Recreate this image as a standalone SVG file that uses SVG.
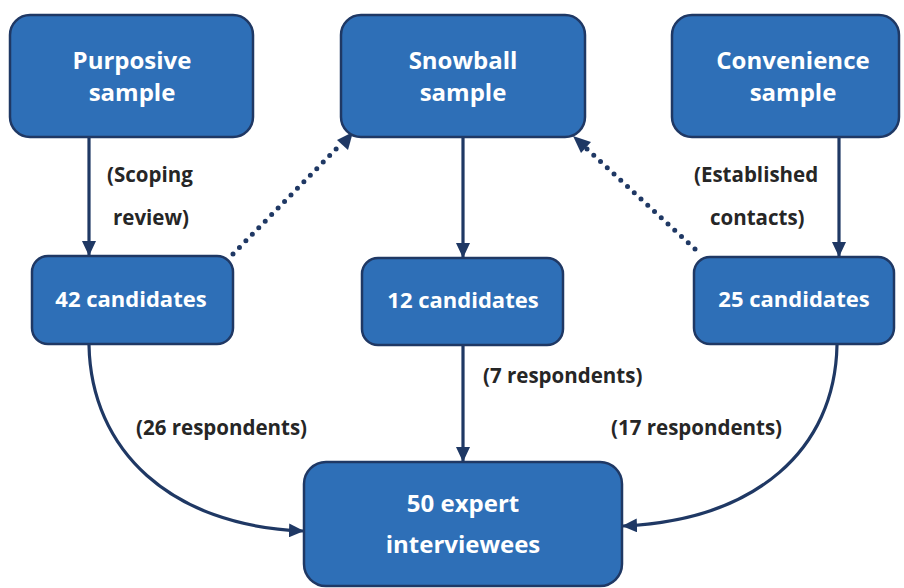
<svg xmlns="http://www.w3.org/2000/svg" width="904" height="588" viewBox="0 0 904 588">
<style>
.box{fill:#2E6FB7;stroke:#1F3864;stroke-width:2.5}
.bt{font-family:"Open Sans","Liberation Sans",sans-serif;font-weight:700;fill:#FFFFFF;text-anchor:middle}
.big{font-size:24px}
.lbl{font-family:"Open Sans","Liberation Sans",sans-serif;font-weight:700;font-size:20.5px;fill:#262626}
.con{fill:none;stroke:#1F3864;stroke-width:3.2}
.dot{fill:none;stroke:#1F3864;stroke-width:5;stroke-linecap:round;stroke-dasharray:0 9.2}
</style>
<defs>
<marker id="ah" markerUnits="userSpaceOnUse" markerWidth="16" markerHeight="14" refX="14" refY="7" orient="auto">
<path d="M0,0 L15,7 L0,14 Z" fill="#1F3864"/>
</marker>
</defs>
<rect width="904" height="588" fill="#FFFFFF"/>
<g id="connectors">
<line class="con" x1="89" y1="137" x2="89" y2="255" marker-end="url(#ah)"/>
<line class="con" x1="463" y1="137" x2="463" y2="257" marker-end="url(#ah)"/>
<line class="con" x1="839" y1="137" x2="839" y2="256" marker-end="url(#ah)"/>
<line class="con" x1="463" y1="345" x2="463" y2="461" marker-end="url(#ah)"/>
<path class="con" d="M89,345 C91,450 170,526 303,531" marker-end="url(#ah)"/>
<path class="con" d="M837,345 C835,450 756,520 623,526" marker-end="url(#ah)"/>
<path class="dot" d="M233,254 L340,145"/>
<path d="M353,132 L348,150 L337,140 Z" fill="#1F3864"/>
<path class="dot" d="M695,249 L586,148"/>
<path d="M573,136 L591,142 L581,153 Z" fill="#1F3864"/>
</g>
<g id="purposive">
<rect class="box" x="10" y="15" width="243" height="122" rx="20"/>
<text class="bt big" x="132" y="69">Purposive</text>
<text class="bt big" x="132" y="101">sample</text>
</g>
<g id="snowball">
<rect class="box" x="341" y="15" width="244" height="122" rx="20"/>
<text class="bt big" x="463" y="69">Snowball</text>
<text class="bt big" x="463" y="101">sample</text>
</g>
<g id="convenience">
<rect class="box" x="672" y="15" width="227" height="122" rx="20"/>
<text class="bt big" x="793" y="69">Convenience</text>
<text class="bt big" x="793" y="101">sample</text>
</g>
<g id="c42">
<rect class="box" x="32" y="256" width="201" height="88" rx="16"/>
<text class="bt" x="131" y="307" font-size="22">42 candidates</text>
</g>
<g id="c12">
<rect class="box" x="362" y="258" width="201" height="87" rx="16"/>
<text class="bt" x="463" y="308" font-size="22">12 candidates</text>
</g>
<g id="c25">
<rect class="box" x="694" y="257" width="200" height="87" rx="16"/>
<text class="bt" x="794" y="307" font-size="22">25 candidates</text>
</g>
<g id="experts">
<rect class="box" x="304" y="462" width="318" height="124" rx="22"/>
<text class="bt big" x="463" y="512">50 expert</text>
<text class="bt big" x="463" y="553">interviewees</text>
</g>
<g id="labels">
<text class="lbl" x="107" y="182">(Scoping</text>
<text class="lbl" x="113" y="225">review)</text>
<text class="lbl" x="694" y="182">(Established</text>
<text class="lbl" x="710" y="225">contacts)</text>
<text class="lbl" x="483" y="383">(7 respondents)</text>
<text class="lbl" x="136" y="435">(26 respondents)</text>
<text class="lbl" x="611" y="435">(17 respondents)</text>
</g>
</svg>
